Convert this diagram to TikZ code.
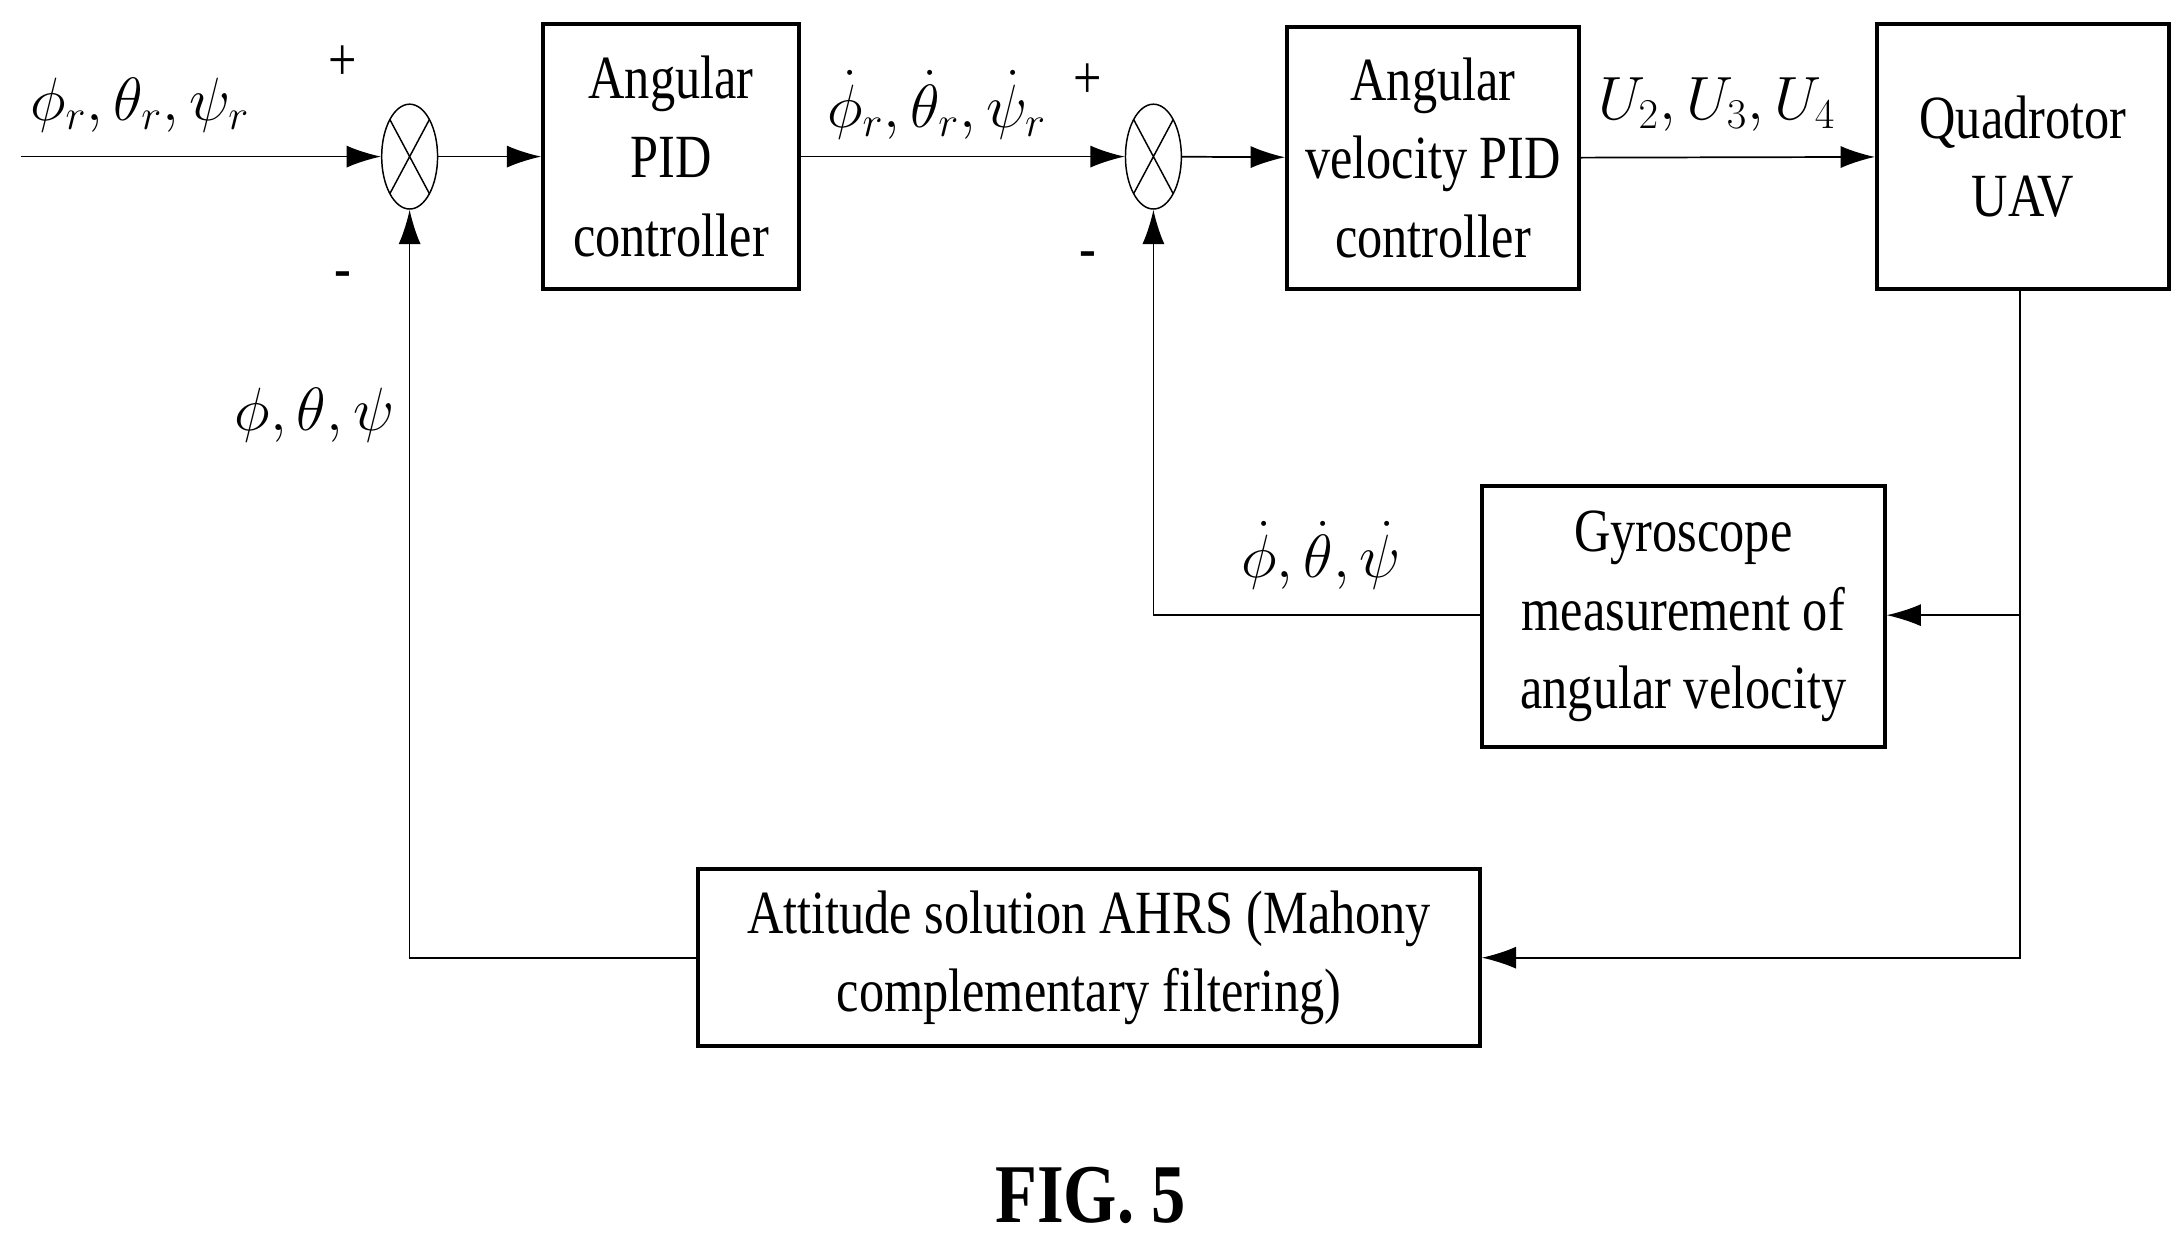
\documentclass[tikz,border=0pt]{standalone}
\usepackage{amsmath}
\usepackage{fontspec}
\setmainfont[FakeStretch=0.82]{Liberation Serif}
\usetikzlibrary{positioning,shapes.geometric,arrows.meta}

\begin{document}
\begin{tikzpicture}[x=0.02cm,y=-0.02cm,
    every node/.style={font=\fontsize{25}{32}\selectfont},
    blk/.style={draw,line width=1.6pt,align=center,inner sep=0pt},
    sumnode/.style={draw,ellipse,line width=0.6pt,minimum width=0.8cm,minimum height=1.5cm,inner sep=0pt,
        path picture={\draw[line width=0.6pt] (path picture bounding box.north west) -- (path picture bounding box.south east)
            (path picture bounding box.north east) -- (path picture bounding box.south west);}},
    sig/.style={line width=0.7pt,-{Latex[length=14pt,width=9pt]}},
    line/.style={line width=0.7pt}]
    \useasboundingbox (0,0) rectangle (1560,887);
    % Blocks
    \node[sumnode] (s1) at (293,112) {};
    \node[sumnode] (s2) at (825,112) {};
    \node[blk,minimum width=3.66cm,minimum height=3.8cm] (angpid) at (480,112) {Angular\\PID\\controller};
    \node[blk,minimum width=4.18cm,minimum height=3.76cm] (velpid) at (1025,113) {Angular\\velocity PID\\controller};
    \node[blk,minimum width=4.18cm,minimum height=3.8cm] (uav) at (1447,112) {Quadrotor\\UAV};
    \node[blk,minimum width=5.76cm,minimum height=3.74cm] (gyro) at (1204,441) {Gyroscope\\measurement of\\angular velocity};
    \node[blk,minimum width=11.18cm,minimum height=2.54cm] (ahrs) at (779,685) {Attitude solution AHRS (Mahony\\complementary filtering)};
    \coordinate (in) at (15,112);
    \coordinate (tap) at (1445,440);
    % Forward path
    \draw[sig] (in) -- (s1);
    \draw[sig] (s1) -- (angpid);
    \draw[sig] (angpid) -- (s2);
    \draw[sig] (s2) -- (velpid);
    \draw[sig] (velpid) -- (uav);
    % Feedback
    \draw[line] (uav.south -| tap) -- (tap);
    \draw[sig] (tap) -- (gyro.east |- tap);
    \draw[sig] (tap) |- (ahrs.east);
    \draw[sig] (gyro.west |- tap) -| (s2.south);
    \draw[sig] (ahrs.west) -| (s1.south);
    % Labels
    \node (lin) at (100,75) {$\phi_r,\theta_r,\psi_r$};
    \node (p1) at (245,45) {+};
    \node (m1) at (245,200) {-};
    \node (lfb1) at (225,297) {$\phi,\theta,\psi$};
    \node (lref2) at (670,75) {$\dot\phi_r,\dot\theta_r,\dot\psi_r$};
    \node (p2) at (778,58) {+};
    \node (m2) at (778,186) {-};
    \node (lu) at (1228,75) {$U_2,U_3,U_4$};
    \node (lfb2) at (945,397) {$\dot\phi,\dot\theta,\dot\psi$};
    \node[font=\fontsize{34}{40}\selectfont\bfseries] (fig) at (780,855) {FIG. 5};
\end{tikzpicture}
\end{document}
